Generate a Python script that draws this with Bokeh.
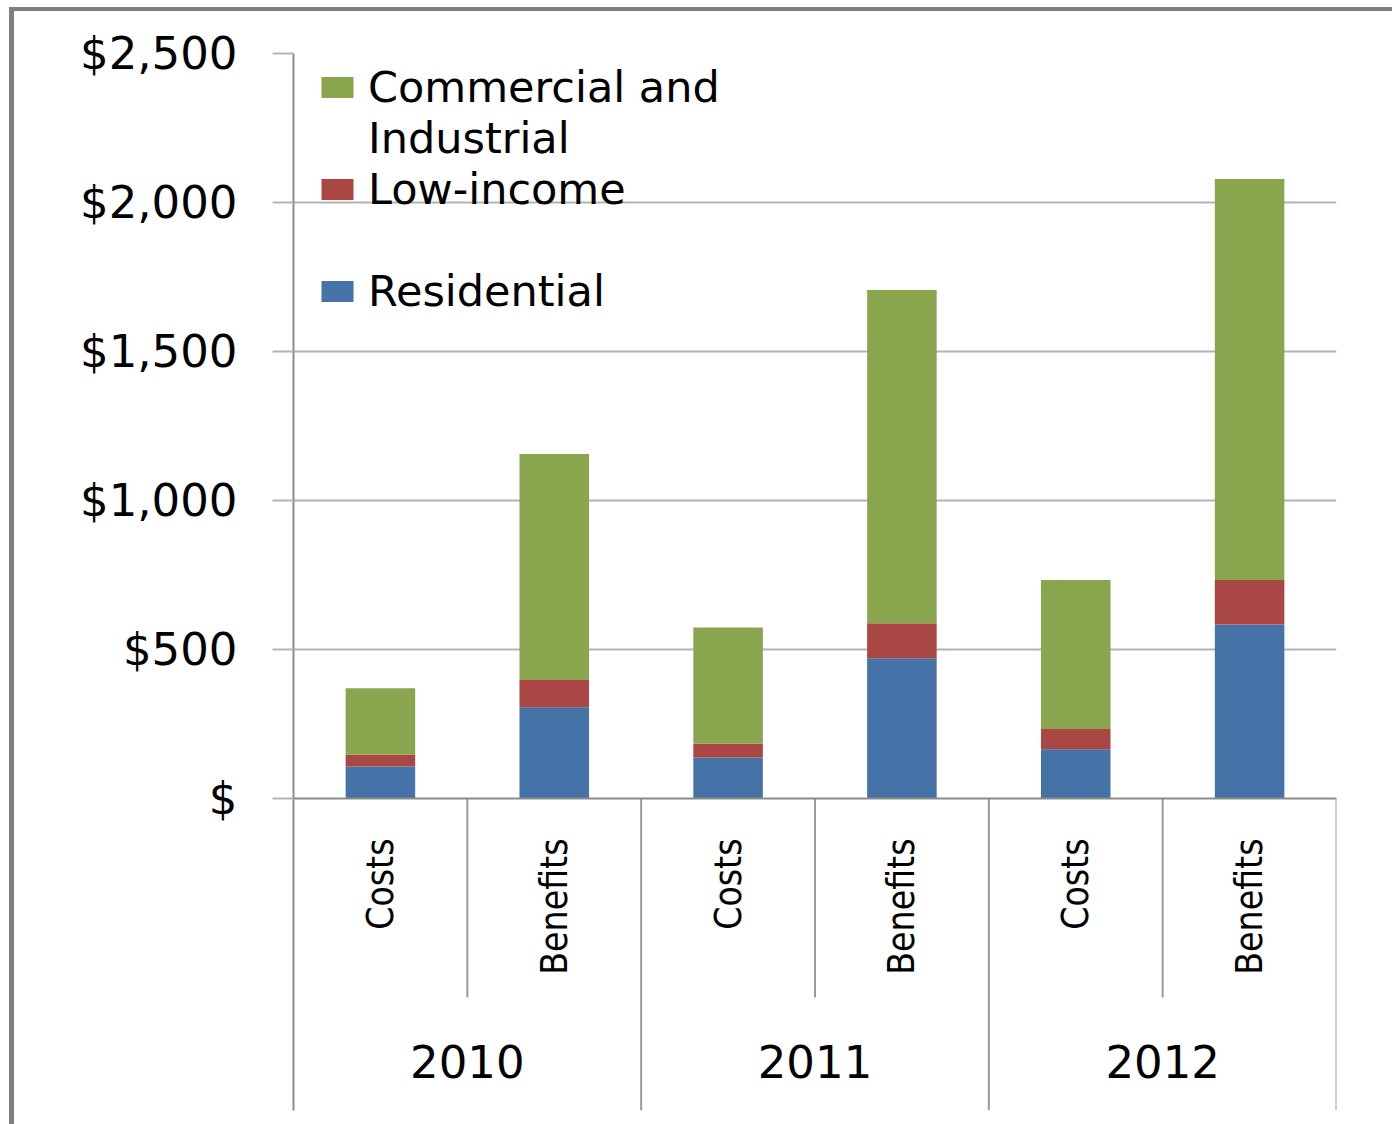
import numpy as np
from bokeh.plotting import figure
from bokeh.models import (ColumnDataSource, FixedTicker, Legend, LegendItem,
                          Span, Range1d)
from bokeh.core.properties import value
from bokeh.embed import file_html
from bokeh.resources import INLINE

# ---------------- data ----------------
years = ["2010", "2011", "2012"]
kinds = ["Costs", "Benefits"]
residential = [107, 306, 138, 471, 165, 584]
low_income = [40, 92, 46, 117, 68, 149]
commercial = [223, 758, 390, 1118, 500, 1346]
series_names = ["Residential", "Low-income", "Commercial and", "Industrial"]
colors = ["#4572A7", "#AA4643", "#89A54E"]
y_ticks = [0, 500, 1000, 1500, 2000, 2500]
y_tick_labels = ["$", "$500", "$1,000", "$1,500", "$2,000", "$2,500"]

# ---------------- layout constants (page pixels) ----------------
W, H = 1392, 1124
frame_left, frame_right = 293, 1336
frame_top, zero_px, frame_bottom = 53, 798, 1110
ppu = (zero_px - frame_top) / y_ticks[-1]
y_bottom = -(frame_bottom - zero_px) / ppu
inner_sep_bottom = -(997 - zero_px) / ppu
sub_label_y = -(838 - zero_px) / ppu
year_label_y = -(1061 - zero_px) / ppu

n_kinds = len(kinds)
n = len(years) * n_kinds
xs = np.arange(n) + 0.5
sub_labels = [k for _ in years for k in kinds]
year_x = np.arange(len(years)) * n_kinds + n_kinds / 2

p = figure(width=W, height=H, output_backend="svg", toolbar_location=None,
           x_range=Range1d(0, n), y_range=Range1d(y_bottom, y_ticks[-1]),
           x_axis_location=None,
           min_border_left=frame_left,
           min_border_right=W - frame_right,
           min_border_top=frame_top,
           min_border_bottom=H - frame_bottom,
           border_fill_color=None, background_fill_color=None,
           outline_line_color=None)
band = "linear-gradient(#7f7f7f,#7f7f7f)"
p.styles = {
    "background-image": f"{band}, {band}",
    "background-repeat": "no-repeat, no-repeat",
    "background-position": "9px 7px, 9px 7px",
    "background-size": "5px 1117px, 1383px 4px",
}

src = ColumnDataSource(dict(x=xs, res=residential, low=low_income, com=commercial))
rs = p.vbar_stack(["res", "low", "com"], x="x", width=0.4, color=colors,
                  line_color=None, source=src)
blank = p.vbar(x=[], top=[], width=0.4, fill_alpha=0, line_alpha=0)

# grid
p.xgrid.visible = False
p.ygrid.ticker = FixedTicker(ticks=y_ticks[1:])
p.ygrid.grid_line_color = "#b3b3b3"
p.ygrid.grid_line_width = 2

# zero line
p.add_layout(Span(location=0, dimension="width", line_color="#8c8c8c", line_width=2))

# y axis
ax = p.yaxis[0]
ax.ticker = FixedTicker(ticks=y_ticks)
ax.major_label_overrides = {t: l for t, l in zip(y_ticks, y_tick_labels)}
ax.major_tick_in = 0
ax.major_tick_out = 21
ax.minor_tick_in = 0
ax.minor_tick_out = 0
ax.axis_line_color = "#8c8c8c"
ax.axis_line_width = 2
ax.major_tick_line_color = "#b3b3b3"
ax.major_tick_line_width = 2
ax.major_label_standoff = 35
ax.major_label_text_font = "DejaVu Sans"
ax.major_label_text_font_size = "45px"
ax.major_label_text_color = "#000000"

# category separators
inner_x = [i * n_kinds + j for i in range(len(years)) for j in range(1, n_kinds)]
outer_x = [i * n_kinds for i in range(1, len(years) + 1)]
p.segment(x0=inner_x, x1=inner_x, y0=[0] * len(inner_x), y1=[inner_sep_bottom] * len(inner_x),
          line_color="#9a9a9a", line_width=2)
p.segment(x0=outer_x, x1=outer_x, y0=[0] * len(outer_x), y1=[y_bottom] * len(outer_x),
          line_color="#9a9a9a", line_width=2)

# sub-category labels (rotated)
p.text(x=xs, y=[sub_label_y] * n, text=sub_labels, angle=np.pi / 2,
       text_align="right", text_baseline="middle",
       text_font=value("DejaVu Sans Condensed, Noto Sans Condensed, Liberation Sans Narrow, Roboto"),
       text_font_size="37px", text_color="#000000")
# year labels
p.text(x=year_x, y=[year_label_y] * len(years), text=years,
       text_align="center", text_baseline="middle",
       text_font=value("DejaVu Sans"), text_font_size="45px", text_color="#000000")

row_h = 51
legend = Legend(items=[
    LegendItem(label=series_names[2], renderers=[rs[2]]),
    LegendItem(label=series_names[3], renderers=[blank]),
    LegendItem(label=series_names[1], renderers=[rs[1]]),
    LegendItem(label=" ", renderers=[blank]),
    LegendItem(label=series_names[0], renderers=[rs[0]]),
], location=(24, (frame_bottom - 61) - 5 * row_h), margin=0, padding=0, spacing=0,
   glyph_width=40, glyph_height=26, label_standoff=11, label_height=row_h,
   label_text_font="DejaVu Sans", label_text_font_size="43px",
   label_text_color="#000000", background_fill_alpha=0, border_line_color=None)
p.add_layout(legend)

open("out.html", "w").write(file_html(p, INLINE))
